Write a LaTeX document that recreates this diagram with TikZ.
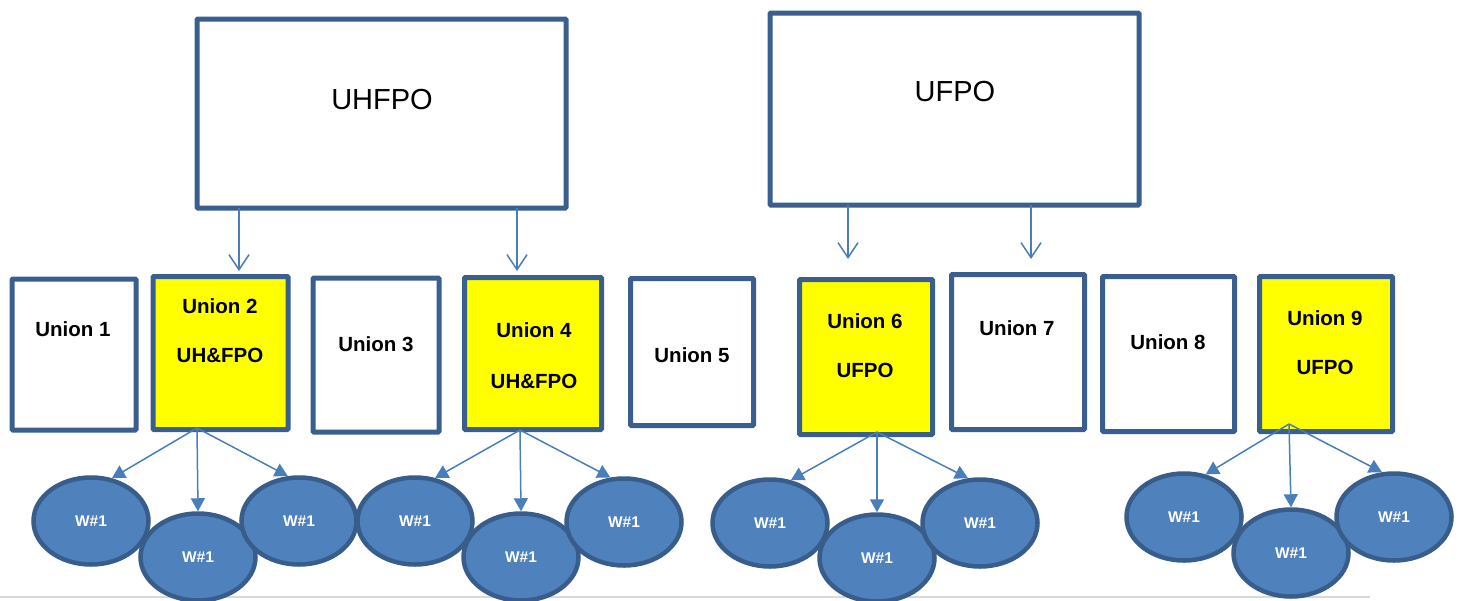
\documentclass[tikz,border=0pt]{standalone}
\usepackage{fontspec}
\setmainfont{Liberation Sans}
\usetikzlibrary{arrows.meta,shapes.geometric}
\definecolor{boxline}{HTML}{3A5F8F}
\definecolor{linkblue}{HTML}{4A7EBB}
\definecolor{wfill}{HTML}{4F81BD}
\definecolor{wline}{HTML}{385D8A}
\definecolor{hilite}{HTML}{FFFF00}
\tikzset{
  bigbox/.style={draw=boxline,line width=5pt,fill=white,inner sep=0pt,outer sep=0pt,rounded corners=1pt},
  ubox/.style={draw=boxline,line width=5pt,fill=white,inner sep=0pt,outer sep=0pt,rounded corners=1pt},
  uboxhl/.style={ubox,fill=hilite},
  worker/.style={ellipse,draw=wline,line width=4.5pt,fill=wfill,minimum width=115pt,minimum height=87pt,
    inner sep=0pt,text=white,font=\bfseries\fontsize{15.5}{18}\selectfont},
  titletext/.style={font=\fontsize{29}{34}\selectfont},
  ulabel/.style={font=\bfseries\fontsize{20.5}{24}\selectfont},
  down/.style={draw=linkblue,line width=1.5pt,-{Straight Barb[length=15pt,width=20pt]}},
  fan/.style={draw=linkblue,line width=1.5pt,-{Triangle[length=13pt,width=14pt]}},
}
\begin{document}
\begin{tikzpicture}[x=1pt,y=-1pt]
\useasboundingbox (0,0) rectangle (1459,600);

% baseline rule along the bottom
\coordinate (r0) at (0,597);
\coordinate (r1) at (1370,597);
\draw[black!15,line width=2.5pt] (r0) -- (r1);

% organisations
\node[bigbox,minimum width=369pt,minimum height=189pt] (hb) at (381.5,113.5) {};
\node[titletext] (hbt) at (382,100) {UHFPO};
\node[bigbox,minimum width=369pt,minimum height=192pt] (fb) at (954.5,109) {};
\node[titletext] (fbt) at (955,92) {UFPO};

% unions
\node[ubox,  minimum width=124pt,minimum height=151pt] (u1) at (74,354.5) {};
\node[uboxhl,minimum width=135pt,minimum height=153pt] (u2) at (220.5,353) {};
\node[ubox,  minimum width=126pt,minimum height=154pt] (u3) at (376,355) {};
\node[uboxhl,minimum width=137pt,minimum height=152pt] (u4) at (533,353.5) {};
\node[ubox,  minimum width=123pt,minimum height=147pt] (u5) at (692,352) {};
\node[uboxhl,minimum width=133pt,minimum height=155pt] (u6) at (866,357) {};
\node[ubox,  minimum width=133pt,minimum height=155pt] (u7) at (1018,352) {};
\node[ubox,  minimum width=132pt,minimum height=155pt] (u8) at (1168.5,354) {};
\node[uboxhl,minimum width=133pt,minimum height=155pt] (u9) at (1326,354) {};

\node[ulabel] (l1) at (73,329) {Union 1};
\node[ulabel] (l2a) at (220,306) {Union 2};
\node[ulabel] (l2b) at (220,355) {UH\&FPO};
\node[ulabel] (l3) at (376,344) {Union 3};
\node[ulabel] (l4a) at (534,330) {Union 4};
\node[ulabel] (l4b) at (534,381) {UH\&FPO};
\node[ulabel] (l5) at (692,355) {Union 5};
\node[ulabel] (l6a) at (865,321) {Union 6};
\node[ulabel] (l6b) at (865,370) {UFPO};
\node[ulabel] (l7) at (1017,328) {Union 7};
\node[ulabel] (l8) at (1168,342) {Union 8};
\node[ulabel] (l9a) at (1325,318) {Union 9};
\node[ulabel] (l9b) at (1325,367) {UFPO};

% links from the organisations down to the unions
\coordinate (t1) at (239,271);
\coordinate (t2) at (517,271);
\coordinate (t3) at (848,259);
\coordinate (t4) at (1031,259);
\draw[down] (t1 |- hb.south) -- (t1);
\draw[down] (t2 |- hb.south) -- (t2);
\draw[down] (t3 |- fb.south) -- (t3);
\draw[down] (t4 |- fb.south) -- (t4);

% workers
\node[worker] (w21) at (91,521) {W\#1};
\node[worker] (w22) at (198,557) {W\#1};
\node[worker] (w23) at (299,521) {W\#1};
\node[worker] (w41) at (415,521) {W\#1};
\node[worker] (w42) at (521,557) {W\#1};
\node[worker] (w43) at (624,522) {W\#1};
\node[worker] (w61) at (770,523) {W\#1};
\node[worker] (w62) at (877,558) {W\#1};
\node[worker] (w63) at (980,523) {W\#1};
\node[worker] (w91) at (1184,517) {W\#1};
\node[worker] (w92) at (1291,553) {W\#1};
\node[worker] (w93) at (1394,517) {W\#1};

% fan-out from each highlighted union
\coordinate (o2) at (197,428);
\coordinate (o4) at (520,430);
\coordinate (o6) at (877,432);
\coordinate (o9) at (1289,424);
\draw[fan] (o2) -- (w21.64);
\draw[fan] (o2) -- (w22.north);
\draw[fan] (o2) -- (w23.104);
\draw[fan] (o4) -- (w41.65);
\draw[fan] (o4) -- (w42.north);
\draw[fan] (o4) -- (w43.107);
\draw[fan] (o6) -- (w61.64);
\draw[fan] (o6) -- (w62.north);
\draw[fan] (o6) -- (w63.105);
\draw[fan] (o9) -- (w91.63);
\draw[fan] (o9) -- (w92.north);
\draw[fan] (o9) -- (w93.105);
\end{tikzpicture}
\end{document}
